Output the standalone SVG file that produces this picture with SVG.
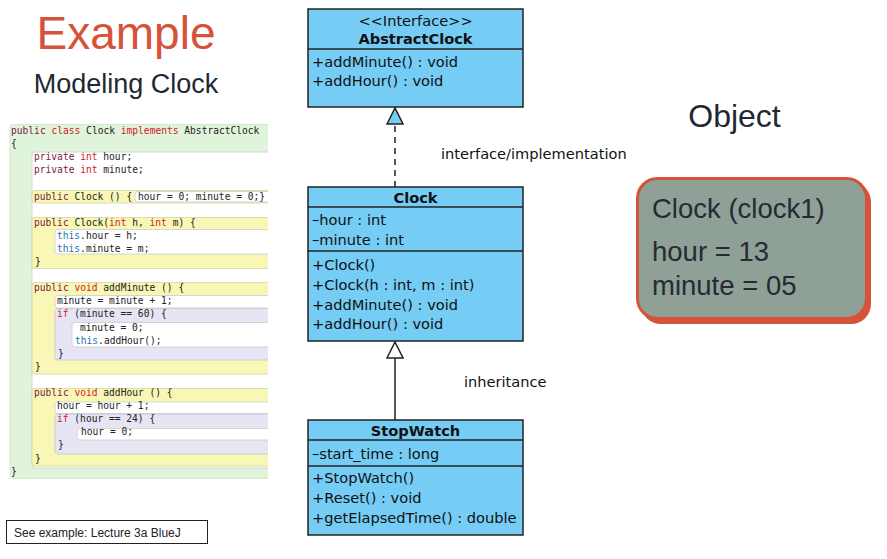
<svg xmlns="http://www.w3.org/2000/svg" width="887" height="559" viewBox="0 0 887 559">
<style>
.title{font-family:"Liberation Sans",Arial,sans-serif;}
.code{font-family:"DejaVu Sans Mono","Liberation Mono",monospace;font-size:9.6px;fill:#222;}
.kw1{fill:#7d1a45;}
.kw2{fill:#d0202a;}
.kw3{fill:#2a74b0;}
.uml{fill:#75ccf4;stroke:#222;stroke-width:1.5;}
.sep{stroke:#222;stroke-width:1.5;}
.ut{font-family:"DejaVu Sans",Verdana,sans-serif;font-size:14.6px;fill:#111;}
.ub{font-weight:bold;}
.cg{fill:#e0f4dc;stroke:#cde3c9;stroke-width:0.8;}
.cw{fill:#ffffff;stroke:#cccccc;stroke-width:0.8;}
.cy{fill:#f8f7b6;stroke:#d6d4a0;stroke-width:0.8;}
.cp{fill:#e5e5f4;stroke:#c4c4d8;stroke-width:0.8;}
.conn{stroke:#222;stroke-width:1.5;fill:none;}
.obj{font-family:"Liberation Sans",Arial,sans-serif;font-size:27.5px;fill:#262a33;}
</style>
<defs>
<clipPath id="codeclip"><rect x="0" y="110" width="268" height="380"/></clipPath>
<marker id="triBlue" viewBox="-1 -1 18 18" refX="16" refY="8" markerWidth="18" markerHeight="18" markerUnits="userSpaceOnUse" orient="auto">
<path d="M0,0 L16,8 L0,16 Z" fill="#75ccf4" stroke="#222" stroke-width="1.5"/>
</marker>
<marker id="triWhite" viewBox="-1 -1 18 18" refX="16" refY="8" markerWidth="18" markerHeight="18" markerUnits="userSpaceOnUse" orient="auto">
<path d="M0,0 L16,8 L0,16 Z" fill="#ffffff" stroke="#222" stroke-width="1.5"/>
</marker>
</defs>
<rect width="887" height="559" fill="#ffffff"/>

<g id="titles">
<text class="title" x="126" y="49" font-size="46" fill="#d5533b" text-anchor="middle">Example</text>
<text class="title" x="126" y="93" font-size="27" fill="#222833" text-anchor="middle">Modeling Clock</text>
<text class="title" x="734.5" y="127" font-size="32" fill="#222833" text-anchor="middle">Object</text>
</g>

<g id="code" clip-path="url(#codeclip)">
<rect class="cg" x="10" y="124.5" width="270" height="354" rx="3"/>
<rect class="cw" x="32" y="152" width="250" height="316" rx="3"/>
<rect class="cy" x="32" y="190.5" width="250" height="12.5" rx="3"/>
<rect class="cw" x="135" y="191.5" width="150" height="10.5" rx="3"/>
<rect class="cy" x="32" y="217.5" width="250" height="51" rx="3"/>
<rect class="cw" x="55" y="229.5" width="230" height="24.5" rx="3"/>
<rect class="cy" x="32" y="282.5" width="250" height="91.5" rx="3"/>
<rect class="cw" x="55" y="295.5" width="230" height="12.5" rx="3"/>
<rect class="cp" x="55" y="308.5" width="230" height="51.5" rx="3"/>
<rect class="cw" x="72" y="322.5" width="215" height="24.5" rx="3"/>
<rect class="cy" x="32" y="388.5" width="250" height="77.5" rx="3"/>
<rect class="cw" x="55" y="402" width="230" height="11.5" rx="3"/>
<rect class="cp" x="55" y="414" width="230" height="40" rx="3"/>
<rect class="cw" x="77" y="428.5" width="210" height="11.5" rx="3"/>

<text class="code" x="11" y="134"><tspan class="kw1">public</tspan> <tspan class="kw2">class</tspan> Clock <tspan class="kw2">implements</tspan> AbstractClock</text>
<text class="code" x="11" y="147.1">{</text>
<text class="code" x="34" y="160.2"><tspan class="kw1">private</tspan> <tspan class="kw2">int</tspan> hour;</text>
<text class="code" x="34" y="173.3"><tspan class="kw1">private</tspan> <tspan class="kw2">int</tspan> minute;</text>
<text class="code" x="34" y="199.5"><tspan class="kw1">public</tspan> Clock () {</text>
<text class="code" x="138" y="199.5">hour = 0; minute = 0;}</text>
<text class="code" x="34" y="225.7"><tspan class="kw1">public</tspan> Clock(<tspan class="kw2">int</tspan> h, <tspan class="kw2">int</tspan> m) {</text>
<text class="code" x="57" y="238.8"><tspan class="kw3">this</tspan>.hour = h;</text>
<text class="code" x="57" y="251.9"><tspan class="kw3">this</tspan>.minute = m;</text>
<text class="code" x="35" y="265">}</text>
<text class="code" x="34" y="291.2"><tspan class="kw1">public</tspan> <tspan class="kw2">void</tspan> addMinute () {</text>
<text class="code" x="57" y="304.3">minute = minute + 1;</text>
<text class="code" x="57" y="317.4"><tspan class="kw2">if</tspan> (minute == 60) {</text>
<text class="code" x="80" y="330.5">minute = 0;</text>
<text class="code" x="75" y="343.6"><tspan class="kw3">this</tspan>.addHour();</text>
<text class="code" x="58" y="356.7">}</text>
<text class="code" x="35" y="369.8">}</text>
<text class="code" x="34" y="396"><tspan class="kw1">public</tspan> <tspan class="kw2">void</tspan> addHour () {</text>
<text class="code" x="57" y="409.1">hour = hour + 1;</text>
<text class="code" x="57" y="422.2"><tspan class="kw2">if</tspan> (hour == 24) {</text>
<text class="code" x="81" y="435.3">hour = 0;</text>
<text class="code" x="58" y="448.4">}</text>
<text class="code" x="35" y="461.5">}</text>
<text class="code" x="11" y="474.6">}</text>
</g>

<g id="see-example">
<rect x="6.5" y="520.5" width="201" height="23" fill="#ffffff" stroke="#222" stroke-width="1"/>
<text class="title" x="14" y="536.5" font-size="12" fill="#222">See example: Lecture 3a BlueJ</text>
</g>

<g id="connectors">
<line class="conn" x1="395" y1="187" x2="395" y2="108" stroke-dasharray="6,5" marker-end="url(#triBlue)"/>
<line class="conn" x1="395" y1="420" x2="395" y2="342" marker-end="url(#triWhite)"/>
<text class="ut" x="441" y="159">interface/implementation</text>
<text class="ut" x="464" y="387">inheritance</text>
</g>

<g id="AbstractClock">
<rect class="uml" x="308" y="9" width="215" height="98"/>
<line class="sep" x1="308" y1="49" x2="523" y2="49"/>
<text class="ut" x="415.5" y="26" text-anchor="middle">&lt;&lt;Interface&gt;&gt;</text>
<text class="ut ub" x="415.5" y="44" text-anchor="middle">AbstractClock</text>
<text class="ut" x="312" y="67">+addMinute() : void</text>
<text class="ut" x="312" y="86">+addHour() : void</text>
</g>

<g id="Clock">
<rect class="uml" x="308" y="187" width="215" height="154"/>
<line class="sep" x1="308" y1="207" x2="523" y2="207"/>
<line class="sep" x1="308" y1="251" x2="523" y2="251"/>
<text class="ut ub" x="415.5" y="203" text-anchor="middle">Clock</text>
<text class="ut" x="312" y="225">–hour : int</text>
<text class="ut" x="312" y="244.5">–minute : int</text>
<text class="ut" x="312" y="270">+Clock()</text>
<text class="ut" x="312" y="290">+Clock(h : int, m : int)</text>
<text class="ut" x="312" y="309.5">+addMinute() : void</text>
<text class="ut" x="312" y="329">+addHour() : void</text>
</g>

<g id="StopWatch">
<rect class="uml" x="308" y="420" width="215" height="115"/>
<line class="sep" x1="308" y1="440" x2="523" y2="440"/>
<line class="sep" x1="308" y1="466" x2="523" y2="466"/>
<text class="ut ub" x="415.5" y="436" text-anchor="middle">StopWatch</text>
<text class="ut" x="312" y="459">–start_time : long</text>
<text class="ut" x="312" y="483">+StopWatch()</text>
<text class="ut" x="312" y="503">+Reset() : void</text>
<text class="ut" x="312" y="523">+getElapsedTime() : double</text>
</g>

<g id="clock1">
<rect x="641" y="182" width="230" height="142" rx="20" fill="#d5533b"/>
<rect x="637.5" y="178.5" width="229" height="140" rx="20" fill="#8fa096" stroke="#d5533b" stroke-width="3"/>
<text class="obj" x="652" y="218">Clock (clock1)</text>
<text class="obj" x="652" y="261">hour = 13</text>
<text class="obj" x="652" y="294.5">minute = 05</text>
</g>
</svg>
